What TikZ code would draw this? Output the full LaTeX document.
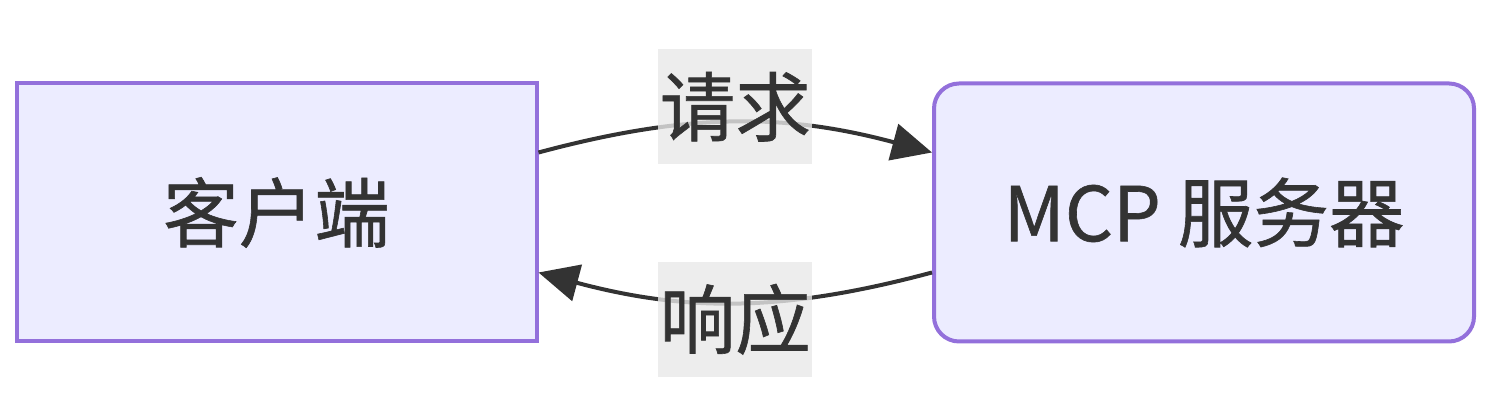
\documentclass[tikz,border=0pt]{standalone}
\usepackage{fontspec}
\setmainfont[FakeBold=0.8]{Noto Sans CJK SC}
\usetikzlibrary{arrows.meta}
\definecolor{boxfill}{HTML}{ECECFF}
\definecolor{boxline}{HTML}{9370DB}
\definecolor{ink}{HTML}{333333}
\definecolor{lblfill}{HTML}{E8E8E8}
\tikzset{
    blockbox/.style = {draw = boxline, fill = boxfill, line width = 0.08cm, text = ink,
        minimum height = 5.16cm, font = \fontsize{43}{50}\selectfont},
    flow/.style = {draw = ink, line width = 0.08cm, -{Triangle[length = 0.8cm, width = 0.74cm]}},
    lbl/.style = {fill = lblfill, fill opacity = 0.8, text opacity = 1, text = ink, inner sep = 0pt,
        minimum width = 3.08cm, minimum height = 2.3cm, font = \fontsize{43}{50}\selectfont}
}

\begin{document}
\begin{tikzpicture}
    \useasboundingbox (0, 0) rectangle (30, 8.24);
    % nodes
    \node[blockbox, minimum width = 10.4cm] (client) at (5.53, 3.99) {客户端};
    \node[blockbox, minimum width = 10.8cm, rounded corners = 0.5cm] (server) at (24.08, 3.99) {MCP 服务器};
    % request
    \draw[flow] ([yshift = 1.2cm]client.east) to[out = 15, in = 165]
        node[lbl, yshift = 0.32cm] (req) {请求} ([yshift = 1.2cm]server.west);
    % response
    \draw[flow] ([yshift = -1.2cm]server.west) to[out = 195, in = -15]
        node[lbl, yshift = -0.34cm] (resp) {响应} ([yshift = -1.2cm]client.east);
\end{tikzpicture}
\end{document}
